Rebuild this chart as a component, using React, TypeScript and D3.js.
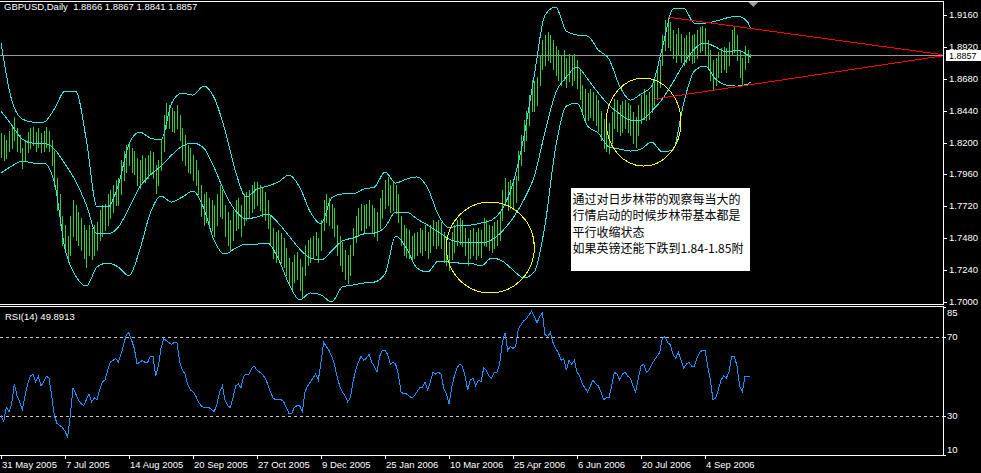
import React from "react";
import * as d3 from "d3";

// daily bars, oldest first
const HIGH = [
  1.827, 1.826, 1.822, 1.829, 1.833, 1.839, 1.831, 1.826, 1.816, 1.822,
  1.828, 1.831, 1.832, 1.828, 1.831, 1.827, 1.829, 1.832, 1.829, 1.822,
  1.814, 1.793, 1.781, 1.765, 1.758, 1.75, 1.765, 1.777, 1.773, 1.768,
  1.763, 1.758, 1.754, 1.758, 1.756, 1.758, 1.76, 1.769, 1.773, 1.774,
  1.781, 1.784, 1.788, 1.792, 1.793, 1.807, 1.814, 1.818, 1.82, 1.816,
  1.814, 1.808, 1.807, 1.811, 1.808, 1.811, 1.814, 1.813, 1.803, 1.807,
  1.822, 1.841, 1.85, 1.848, 1.846, 1.844, 1.848, 1.841, 1.831, 1.826,
  1.818, 1.816, 1.811, 1.807, 1.799, 1.788, 1.781, 1.783, 1.778, 1.777,
  1.773, 1.781, 1.788, 1.784, 1.773, 1.768, 1.762, 1.769, 1.777, 1.778,
  1.773, 1.781, 1.783, 1.784, 1.788, 1.79, 1.79, 1.788, 1.786, 1.783,
  1.777, 1.765, 1.756, 1.753, 1.754, 1.752, 1.748, 1.741, 1.733, 1.73,
  1.735, 1.738, 1.732, 1.726, 1.743, 1.747, 1.748, 1.75, 1.753, 1.748,
  1.762, 1.777, 1.781, 1.778, 1.774, 1.771, 1.758, 1.75, 1.745, 1.739,
  1.735, 1.743, 1.756, 1.765, 1.771, 1.774, 1.773, 1.774, 1.777, 1.773,
  1.771, 1.768, 1.778, 1.784, 1.792, 1.794, 1.788, 1.79, 1.788, 1.781,
  1.765, 1.758, 1.756, 1.754, 1.75, 1.752, 1.753, 1.756, 1.754, 1.758,
  1.753, 1.758, 1.762, 1.76, 1.762, 1.76, 1.753, 1.748, 1.745, 1.753,
  1.758, 1.762, 1.763, 1.762, 1.756, 1.748, 1.754, 1.756, 1.753, 1.756,
  1.754, 1.763, 1.762, 1.758, 1.757, 1.76, 1.762, 1.768, 1.784, 1.793,
  1.79, 1.792, 1.79, 1.795, 1.814, 1.826, 1.837, 1.844, 1.856, 1.867,
  1.866, 1.869, 1.886, 1.897, 1.901, 1.903, 1.901, 1.897, 1.893, 1.89,
  1.886, 1.89, 1.884, 1.887, 1.886, 1.887, 1.882, 1.875, 1.863, 1.86,
  1.857, 1.86, 1.858, 1.856, 1.852, 1.844, 1.838, 1.837, 1.835, 1.843,
  1.853, 1.852, 1.848, 1.851, 1.852, 1.85, 1.848, 1.843, 1.839, 1.848,
  1.856, 1.86, 1.856, 1.858, 1.863, 1.869, 1.875, 1.882, 1.901, 1.912,
  1.914, 1.911, 1.905, 1.902, 1.906, 1.902, 1.899, 1.901, 1.903, 1.901,
  1.902, 1.905, 1.907, 1.908, 1.906, 1.897, 1.89, 1.882, 1.884, 1.888,
  1.891, 1.892, 1.891, 1.896, 1.905, 1.907, 1.901, 1.89, 1.884, 1.893,
  1.89, 1.8867,
];

const LOW = [
  1.809, 1.807, 1.808, 1.814, 1.816, 1.822, 1.814, 1.813, 1.801, 1.807,
  1.813, 1.816, 1.818, 1.814, 1.817, 1.813, 1.814, 1.817, 1.814, 1.803,
  1.787, 1.769, 1.758, 1.743, 1.738, 1.73, 1.735, 1.75, 1.747, 1.743,
  1.739, 1.733, 1.726, 1.735, 1.732, 1.735, 1.739, 1.747, 1.75, 1.754,
  1.758, 1.763, 1.768, 1.773, 1.773, 1.781, 1.792, 1.798, 1.803, 1.798,
  1.796, 1.788, 1.786, 1.792, 1.79, 1.793, 1.796, 1.793, 1.782, 1.788,
  1.799, 1.814, 1.831, 1.831, 1.829, 1.828, 1.831, 1.822, 1.807, 1.803,
  1.798, 1.797, 1.792, 1.788, 1.781, 1.765, 1.758, 1.76, 1.756, 1.754,
  1.75, 1.758, 1.765, 1.763, 1.75, 1.743, 1.739, 1.747, 1.754, 1.756,
  1.75, 1.758, 1.762, 1.763, 1.768, 1.771, 1.773, 1.769, 1.765, 1.762,
  1.756, 1.743, 1.733, 1.73, 1.732, 1.729, 1.726, 1.72, 1.713, 1.709,
  1.715, 1.717, 1.709, 1.704, 1.72, 1.728, 1.73, 1.733, 1.735, 1.73,
  1.739, 1.754, 1.76, 1.758, 1.756, 1.75, 1.735, 1.728, 1.723, 1.717,
  1.714, 1.72, 1.735, 1.745, 1.75, 1.754, 1.753, 1.756, 1.758, 1.753,
  1.75, 1.747, 1.756, 1.763, 1.771, 1.773, 1.768, 1.769, 1.767, 1.76,
  1.743, 1.735, 1.734, 1.733, 1.732, 1.733, 1.735, 1.738, 1.735, 1.739,
  1.733, 1.738, 1.743, 1.741, 1.743, 1.741, 1.73, 1.728, 1.724, 1.732,
  1.738, 1.743, 1.744, 1.742, 1.735, 1.728, 1.733, 1.735, 1.732, 1.735,
  1.734, 1.743, 1.742, 1.739, 1.738, 1.741, 1.743, 1.747, 1.762, 1.773,
  1.769, 1.771, 1.771, 1.775, 1.792, 1.803, 1.814, 1.822, 1.833, 1.844,
  1.844, 1.848, 1.863, 1.875, 1.878, 1.882, 1.881, 1.875, 1.871, 1.867,
  1.863, 1.867, 1.862, 1.866, 1.863, 1.867, 1.861, 1.853, 1.843, 1.838,
  1.837, 1.839, 1.837, 1.833, 1.829, 1.822, 1.816, 1.814, 1.812, 1.82,
  1.831, 1.829, 1.826, 1.828, 1.831, 1.828, 1.826, 1.82, 1.817, 1.826,
  1.835, 1.838, 1.837, 1.838, 1.843, 1.848, 1.853, 1.862, 1.878, 1.89,
  1.892, 1.89, 1.884, 1.881, 1.886, 1.881, 1.878, 1.881, 1.882, 1.88,
  1.881, 1.884, 1.888, 1.89, 1.886, 1.876, 1.867, 1.86, 1.863, 1.869,
  1.873, 1.875, 1.873, 1.878, 1.886, 1.888, 1.882, 1.869, 1.863, 1.875,
  1.881, 1.8841,
];

const RSI = [
  30, 27, 34, 32, 36, 46, 40, 37, 33, 40,
  46, 50, 51, 47, 50, 45, 47, 50, 49, 40,
  30, 26, 25, 24, 22, 19, 30, 44, 41, 38,
  36, 35, 38, 41, 37, 39, 38, 43, 47, 48,
  53, 57, 58, 59, 57, 61, 66, 71, 72, 68,
  64, 56, 57, 58, 57, 57, 60, 60, 50, 55,
  64, 69, 68, 67, 66, 67, 67, 57, 53, 51,
  46, 43, 42, 40, 37, 35, 34, 34, 34, 33,
  32, 36, 42, 45, 38, 35, 34, 39, 45, 46,
  44, 50, 51, 51, 54, 55, 53, 52, 51, 49,
  46, 42, 39, 38, 38, 38, 37, 34, 31, 31,
  34, 35, 35, 32, 42, 45, 47, 49, 51, 48,
  57, 67, 65, 63, 60, 56, 50, 45, 42, 40,
  37, 39, 47, 53, 57, 60, 58, 59, 61, 57,
  55, 52, 60, 63, 63, 61, 56, 57, 56, 51,
  42, 41, 41, 40, 39, 40, 42, 44, 44, 47,
  43, 47, 52, 51, 52, 51, 44, 41, 36, 44,
  50, 54, 56, 55, 50, 43, 48, 49, 45, 48,
  47, 54, 53, 50, 49, 52, 52, 56, 67, 72,
  63, 65, 64, 65, 74, 76, 78, 79, 81, 83,
  80, 77, 80, 82, 71, 70, 72, 67, 64, 62,
  58, 59, 53, 58, 56, 58, 52, 50, 46, 44,
  42, 45, 48, 46, 45, 42, 38, 39, 39, 45,
  52, 51, 48, 51, 52, 50, 49, 45, 42, 49,
  55, 56, 52, 53, 56, 58, 60, 62, 69, 70,
  67, 66, 61, 59, 62, 58, 54, 56, 57, 55,
  55, 59, 62, 63, 63, 55, 48, 38, 39, 43,
  48, 50, 49, 52, 60, 60, 55, 45, 42, 50,
  50, 49.8913,
];

// Bollinger bands read every 4th bar (last point = last bar)
const BAND_STEP = 4;
const BB_UPPER = [
  1.8949, 1.852, 1.8377, 1.8354, 1.8354, 1.8452, 1.8588, 1.8588, 1.8219, 1.7715,
  1.7715, 1.788, 1.8189, 1.8279, 1.8234, 1.8219, 1.8497, 1.8573, 1.8557, 1.8625,
  1.8535, 1.8294, 1.7978, 1.779, 1.785, 1.7873, 1.7903, 1.7956, 1.7865, 1.7677,
  1.7587, 1.7783, 1.7813, 1.7813, 1.785, 1.7865, 1.7978, 1.7895, 1.7925, 1.7941,
  1.7858, 1.7655, 1.7557, 1.7579, 1.7579, 1.7594, 1.7617, 1.77, 1.7895, 1.8234,
  1.8708, 1.9159, 1.922, 1.9039, 1.9009, 1.9001, 1.8896, 1.8828, 1.8625, 1.852,
  1.8565, 1.8625, 1.8911, 1.9205, 1.9212, 1.9099, 1.9099, 1.9114, 1.9137, 1.9152,
  1.9107, 1.9062,
];
const BB_MIDDLE = [
  1.8437, 1.8332, 1.8226, 1.8196, 1.8196, 1.8151, 1.8038, 1.791, 1.773, 1.7512,
  1.7512, 1.7564, 1.7707, 1.7865, 1.7956, 1.8023, 1.8106, 1.8174, 1.8196, 1.8159,
  1.8008, 1.782, 1.7685, 1.7625, 1.764, 1.7662, 1.7594, 1.7497, 1.7399, 1.7331,
  1.7316, 1.7384, 1.7459, 1.7482, 1.7512, 1.7519, 1.7564, 1.7677, 1.7677, 1.7625,
  1.7579, 1.7527, 1.7474, 1.7451, 1.7451, 1.7444, 1.7467, 1.7534, 1.7632, 1.7767,
  1.7948, 1.8279, 1.8573, 1.8693, 1.8768, 1.8678, 1.8573, 1.8482, 1.8415, 1.8369,
  1.8369, 1.8437, 1.8527, 1.8655, 1.8791, 1.8904, 1.8949, 1.8919, 1.8881, 1.8896,
  1.8858, 1.8843,
];
const BB_LOWER = [
  1.7971, 1.8023, 1.8061, 1.8046, 1.8046, 1.7903, 1.7399, 1.7196, 1.712, 1.7263,
  1.7293, 1.7263, 1.7196, 1.7391, 1.767, 1.7798, 1.7752, 1.779, 1.7835, 1.7707,
  1.7459, 1.7361, 1.7406, 1.7436, 1.7436, 1.7444, 1.7324, 1.7135, 1.7015, 1.7068,
  1.7053, 1.7, 1.7113, 1.7128, 1.7143, 1.715, 1.7211, 1.7497, 1.7406, 1.7256,
  1.7226, 1.7308, 1.7301, 1.7293, 1.7293, 1.7271, 1.7331, 1.7308, 1.7241, 1.7181,
  1.7226, 1.7579, 1.8166, 1.8475, 1.8497, 1.8324, 1.8272, 1.8166, 1.8151, 1.8136,
  1.8151, 1.8204, 1.8129, 1.8144, 1.8497, 1.8738, 1.8776, 1.8678, 1.8633, 1.8625,
  1.864, 1.8655,
];

const PRICE_TICKS = [1.916, 1.892, 1.868, 1.844, 1.82, 1.796, 1.772, 1.748, 1.724, 1.7];
const RSI_LEVELS = [70, 30];
const RSI_LABELS = [85, 70, 30, 10];
const DATE_TICK_BARS = [0, 24, 48, 72, 96, 120, 144, 168, 192, 216, 240, 264];
const DATE_LABELS = [
  "31 May 2005", "7 Jul 2005", "14 Aug 2005", "20 Sep 2005", "27 Oct 2005", "9 Dec 2005",
  "25 Jan 2006", "10 Mar 2006", "25 Apr 2006", "6 Jun 2006", "20 Jul 2006", "4 Sep 2006",
];
const LAST_OHLC = [1.8866, 1.8867, 1.8841, 1.8857];

// objects drawn on the chart (bar index, price)
const TREND_LINES = [
  [[250, 1.9144], [353, 1.8862]],
  [[245, 1.8527], [353, 1.8852]],
];
const ELLIPSES = [
  { from: 167, to: 200, top: 1.7752, bottom: 1.7068 },
  { from: 227, to: 255, top: 1.8685, bottom: 1.8023 },
];
const NOTE_ANCHOR = { bar: 213.6, price: 1.786 };
const NOTE_LINES = [
  "通过对日步林带的观察每当大的",
  "行情启动的时候步林带基本都是",
  "平行收缩状态",
  "如果英镑还能下跌到1.84-1.85附",
];

const W = 981;
const H = 473;
const RIGHT = 943;
const MAIN_BOTTOM = 304;
const RSI_TOP = 306;
const RSI_BOTTOM = 455;
const FONT = "'Liberation Sans', Arial, sans-serif";
const BAR_COLOR = "#32cd32";
const BAND_COLOR = "#30e6e6";

const x = d3.scaleLinear().domain([0, 24]).range([1, 65]);
const yP = d3.scaleLinear().domain([1.7, 1.916]).range([302, 15]);
const yR = d3.scaleLinear().domain([10, 85]).range([455, 307]);

const px = (i: number) => Math.round(x(i)) + 0.5;
const lastBar = HIGH.length - 1;

const bandLine = d3
  .line<number>()
  .x((_, k) => x(Math.min(k * BAND_STEP, lastBar)))
  .y((v) => yP(v))
  .curve(d3.curveMonotoneX);

const rsiLine = d3
  .line<number>()
  .x((_, i) => x(i))
  .y((v) => yR(v));

export default function App() {
  const close = LAST_OHLC[3];
  const yClose = Math.round(yP(close)) + 0.5;
  const noteX = x(NOTE_ANCHOR.bar);
  const noteY = yP(NOTE_ANCHOR.price);

  return (
    <svg
      width={W}
      height={H}
      style={{ position: "absolute", left: 0, top: 0, display: "block", background: "#000" }}
    >
      <defs>
        <clipPath id="mainClip">
          <rect x={0} y={2} width={RIGHT} height={MAIN_BOTTOM - 2} />
        </clipPath>
        <clipPath id="rsiClip">
          <rect x={0} y={RSI_TOP + 1} width={RIGHT} height={RSI_BOTTOM - RSI_TOP - 1} />
        </clipPath>
      </defs>
      <rect width={W} height={H} fill="#000" />

      <g clipPath="url(#mainClip)" shapeRendering="crispEdges">
        {/* last close line */}
        <line x1={0} x2={RIGHT} y1={yClose} y2={yClose} stroke="#9a9a9a" />

        {HIGH.map((h, i) => (
          <line
            key={i}
            x1={px(i)}
            x2={px(i)}
            y1={Math.round(yP(h))}
            y2={Math.round(yP(LOW[i])) + 1}
            stroke={BAR_COLOR}
          />
        ))}

        {[BB_UPPER, BB_MIDDLE, BB_LOWER].map((band, k) => (
          <path key={k} d={bandLine(band) || ""} fill="none" stroke={BAND_COLOR} strokeWidth={1} />
        ))}

        {ELLIPSES.map((e, k) => (
          <ellipse
            key={k}
            cx={(x(e.from) + x(e.to)) / 2}
            cy={(yP(e.top) + yP(e.bottom)) / 2}
            rx={(x(e.to) - x(e.from)) / 2}
            ry={(yP(e.bottom) - yP(e.top)) / 2}
            fill="none"
            stroke="#ffff00"
          />
        ))}

        {TREND_LINES.map((t, k) => (
          <line
            key={k}
            x1={x(t[0][0])}
            y1={yP(t[0][1])}
            x2={x(t[1][0])}
            y2={yP(t[1][1])}
            stroke="#ff0000"
          />
        ))}

        <rect x={noteX} y={noteY} width={179} height={83} fill="#fff" />
      </g>

      <g fontFamily="'Noto Sans CJK SC', sans-serif" fontSize={12} fill="#000">
        {NOTE_LINES.map((t, k) => (
          <text key={k} x={noteX + 2} y={noteY + 16 + k * 16.5}>
            {t}
          </text>
        ))}
      </g>

      {/* shift marker */}
      <path
        d={`M${x(lastBar) - 2},2 L${x(lastBar) + 8},2 L${x(lastBar) + 3},7 Z`}
        fill="#9a9a9a"
      />

      {/* RSI panel */}
      <g clipPath="url(#rsiClip)">
        {RSI_LEVELS.map((v) => (
          <line
            key={v}
            x1={0}
            x2={RIGHT}
            y1={Math.round(yR(v)) + 0.5}
            y2={Math.round(yR(v)) + 0.5}
            stroke="#c8c8c8"
            strokeDasharray="3,3"
            shapeRendering="crispEdges"
          />
        ))}
        <path
          d={rsiLine(RSI) || ""}
          fill="none"
          stroke="#1e90ff"
          strokeWidth={1}
          shapeRendering="crispEdges"
        />
      </g>

      {/* frames */}
      <g stroke="#fff" shapeRendering="crispEdges">
        <line x1={0} x2={RIGHT + 1} y1={1.5} y2={1.5} />
        <line x1={RIGHT + 0.5} x2={RIGHT + 0.5} y1={1} y2={MAIN_BOTTOM + 1} />
        <line x1={0} x2={RIGHT + 1} y1={MAIN_BOTTOM + 0.5} y2={MAIN_BOTTOM + 0.5} />
        <line x1={0} x2={RIGHT + 1} y1={RSI_TOP + 0.5} y2={RSI_TOP + 0.5} />
        <line x1={RIGHT + 0.5} x2={RIGHT + 0.5} y1={RSI_TOP} y2={RSI_BOTTOM + 1} />
        <line x1={0} x2={RIGHT + 1} y1={RSI_BOTTOM + 0.5} y2={RSI_BOTTOM + 0.5} />
        {PRICE_TICKS.map((t) => (
          <line
            key={t}
            x1={RIGHT + 1}
            x2={RIGHT + 4}
            y1={Math.round(yP(t)) + 0.5}
            y2={Math.round(yP(t)) + 0.5}
          />
        ))}
        {RSI_LABELS.map((v) => (
          <line
            key={v}
            x1={RIGHT + 1}
            x2={RIGHT + 3}
            y1={Math.round(yR(v)) + 0.5}
            y2={Math.round(yR(v)) + 0.5}
          />
        ))}
        {DATE_TICK_BARS.map((b) => (
          <line key={b} x1={px(b)} x2={px(b)} y1={RSI_BOTTOM} y2={RSI_BOTTOM + 4} />
        ))}
      </g>

      <g fontFamily={FONT} fontSize={9.5} fill="#fff">
        <text x={4} y={10} style={{ whiteSpace: "pre" }}>
          {`GBPUSD,Daily  ${LAST_OHLC.map((v) => v.toFixed(4)).join(" ")}`}
        </text>
        <text x={5} y={320}>
          {`RSI(14) ${RSI[lastBar].toFixed(4)}`}
        </text>
        {PRICE_TICKS.map((t) => (
          <text key={t} x={949} y={yP(t) + 3}>
            {t.toFixed(4)}
          </text>
        ))}
        {RSI_LABELS.map((v, k) => (
          <text
            key={v}
            x={947}
            y={k === 0 ? yR(v) + 9 : k === RSI_LABELS.length - 1 ? yR(v) - 2 : yR(v) + 3.5}
          >
            {v}
          </text>
        ))}
        {DATE_TICK_BARS.map((b, k) => (
          <text key={b} x={Math.round(x(b)) + 1} y={468}>
            {DATE_LABELS[k]}
          </text>
        ))}
      </g>

      {/* current price tag */}
      <rect x={RIGHT + 3} y={yClose - 5.5} width={35} height={11} fill="#fff" />
      <text x={949} y={yClose + 3} fontFamily={FONT} fontSize={9} fill="#000">
        {close.toFixed(4)}
      </text>
    </svg>
  );
}
